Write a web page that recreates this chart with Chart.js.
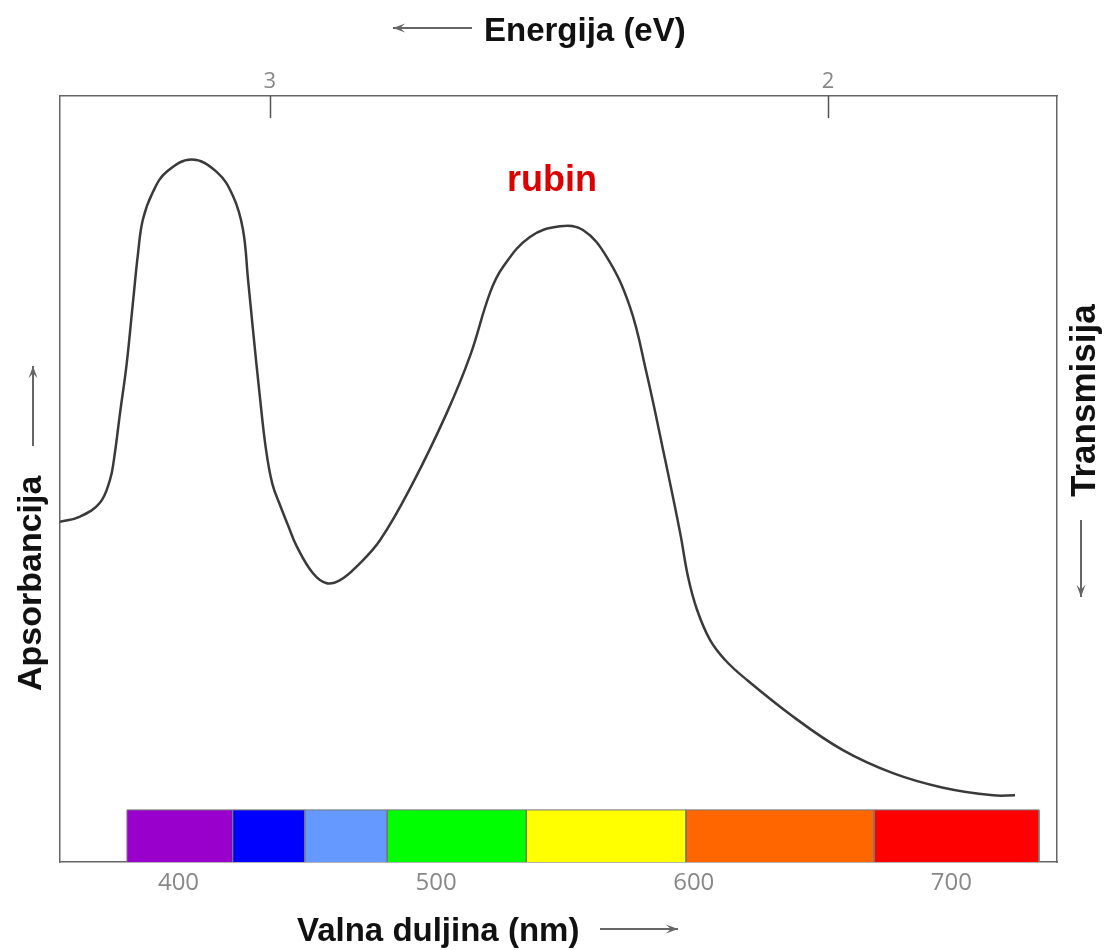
<!DOCTYPE html>
<html>
<head>
<meta charset="utf-8">
<title>Rubin - apsorpcijski spektar</title>
<script src="https://cdn.jsdelivr.net/npm/chart.js@4.4.0/dist/chart.umd.min.js"></script>
<style>
  body { margin: 0; background: #fff; }
  canvas { display: block; }
</style>
</head>
<body>
<canvas id="rubyChart" width="1105" height="950"></canvas>
<script>
// absorption curve of ruby (nm, arbitrary units 0..100)
const wavelengths = [354.0, 361.8, 369.5, 373.4, 375.0, 377.3, 379.9, 382.3, 384.3, 386.2,
    390.1, 395.4, 405.1, 414.8, 421.2, 425.0, 427.0, 428.9, 431.6, 433.9,
    436.4, 439.4, 442.8, 445.9, 452.2, 457.5, 462.7, 469.2, 478.2, 491.0, 504.1, 513.1,
    520.9, 526.0, 536.4, 548.1, 557.0, 566.2, 575.2, 581.7, 588.1, 594.7,
    597.8, 601.2, 606.3, 612.1, 619.1, 638.5, 657.9, 677.3, 696.8, 716.2, 724.7]
const absorbance = [44.4, 45.1, 46.9, 49.9, 52.7, 58.6, 65.1, 73.0, 79.5, 83.9,
    87.5, 90.1, 91.7, 90.1, 86.9, 82.6, 76.0, 69.5, 60.7, 54.0,
    49.4, 46.6, 43.7, 41.2, 37.7, 36.4, 36.8, 38.6, 42.0, 49.5, 58.6, 66.0,
    74.3, 77.7, 81.6, 83.0, 82.5, 79.0, 72.5, 63.8, 53.8, 43.0,
    37.2, 33.0, 29.0, 26.4, 24.2, 19.0, 14.6, 11.6, 9.7, 8.7, 8.7]

// visible spectrum strip under the curve
const spectrumEdges = [380, 421, 449, 481, 535, 597, 670, 734]
const spectrumColors = ['#9900cc', '#0000ff', '#6699ff', '#00ff00', '#ffff00', '#ff6600', '#ff0000']

const wavelengthTicks = [400, 500, 600, 700]
const energyTicks = [3, 2]

const stripHeight = 6.8

function spectrumDatasets() {
    let sets = []
    for (let i = 0; i < spectrumColors.length; ++i) {
        let a = spectrumEdges[i]
        let b = spectrumEdges[i + 1]
        sets.push({
            type: 'line',
            data: [{x: a, y: 0}, {x: a, y: stripHeight}, {x: b, y: stripHeight}, {x: b, y: 0}],
            backgroundColor: spectrumColors[i],
            borderColor: '#777',
            borderWidth: 1,
            fill: 'origin',
            pointRadius: 0,
            tension: 0,
            order: 1
        })
    }
    return sets
}

function drawArrow(ctx, x1, y1, x2, y2) {
    const ang = Math.atan2(y2 - y1, x2 - x1)
    const head = 13
    ctx.beginPath()
    ctx.moveTo(x1, y1)
    ctx.lineTo(x2, y2)
    ctx.stroke()
    ctx.beginPath()
    ctx.moveTo(x2, y2)
    ctx.lineTo(x2 - head * Math.cos(ang - 0.35), y2 - head * Math.sin(ang - 0.35))
    ctx.lineTo(x2 - head * 0.55 * Math.cos(ang), y2 - head * 0.55 * Math.sin(ang))
    ctx.lineTo(x2 - head * Math.cos(ang + 0.35), y2 - head * Math.sin(ang + 0.35))
    ctx.closePath()
    ctx.fill()
}

// inward ticks on the energy axis, axis labels with arrows, the "rubin" note
const decorPlugin = {
    id: 'decor',
    afterDraw(chart) {
        const ctx = chart.ctx
        const area = chart.chartArea
        const energy = chart.scales.energy
        ctx.save()

        ctx.strokeStyle = '#555'
        ctx.lineWidth = 1.5
        energy.ticks.forEach(t => {
            const px = Math.round(energy.getPixelForValue(t.value)) + 0.5
            ctx.beginPath()
            ctx.moveTo(px, area.top)
            ctx.lineTo(px, area.top + 22)
            ctx.stroke()
        })

        const titleFont = 'bold 33px "Liberation Sans", Arial, sans-serif'
        ctx.fillStyle = '#111'
        ctx.font = titleFont
        ctx.textAlign = 'left'
        ctx.textBaseline = 'alphabetic'
        ctx.fillText('Energija (eV)', 484, 41)
        ctx.fillText('Valna duljina (nm)', 297, 941)

        ctx.save()
        ctx.translate(32, 691)
        ctx.rotate(-Math.PI / 2)
        ctx.textBaseline = 'middle'
        ctx.font = 'bold 34px "Liberation Sans", Arial, sans-serif'
        ctx.fillText('Apsorbancija', 0, 0)
        ctx.restore()

        ctx.save()
        ctx.translate(1085, 497)
        ctx.rotate(-Math.PI / 2)
        ctx.textBaseline = 'middle'
        ctx.font = 'bold 35px "Liberation Sans", Arial, sans-serif'
        ctx.fillText('Transmisija', 0, 0)
        ctx.restore()

        ctx.strokeStyle = '#666'
        ctx.fillStyle = '#666'
        ctx.lineWidth = 2
        drawArrow(ctx, 472, 28, 393, 28)
        drawArrow(ctx, 600, 929, 678, 929)
        drawArrow(ctx, 33, 446, 33, 366)
        drawArrow(ctx, 1081, 520, 1081, 597)

        ctx.fillStyle = '#dd0000'
        ctx.font = 'bold 36px "Liberation Sans", Arial, sans-serif'
        ctx.fillText('rubin', 507, 191)

        ctx.restore()
    }
}

const boxBorder = {display: true, color: '#666', width: 1.5}

new Chart('rubyChart', {
    type: 'line',
    data: {
        datasets: [{
            data: wavelengths.map((w, i) => ({x: w, y: absorbance[i]})),
            borderColor: '#3a3a3a',
            borderWidth: 2.5,
            pointRadius: 0,
            fill: false,
            tension: 0.4,
            order: 0
        }].concat(spectrumDatasets())
    },
    options: {
        responsive: false,
        animation: false,
        events: [],
        layout: {padding: 0},
        plugins: {
            legend: {display: false},
            tooltip: {enabled: false}
        },
        scales: {
            x: {
                type: 'linear',
                position: 'bottom',
                min: 354,
                max: 741,
                afterBuildTicks: scale => { scale.ticks = wavelengthTicks.map(v => ({value: v})) },
                afterFit: scale => { scale.height = 88 },
                grid: {display: false, drawTicks: false},
                border: boxBorder,
                ticks: {
                    padding: 7,
                    color: '#888',
                    font: {family: 'Open Sans', size: 24}
                }
            },
            energy: {
                type: 'linear',
                position: 'top',
                min: 1.59,
                max: 3.376,
                reverse: true,
                afterBuildTicks: scale => { scale.ticks = energyTicks.map(v => ({value: v})) },
                afterFit: scale => { scale.height = 96 },
                grid: {display: false, drawTicks: false},
                border: boxBorder,
                ticks: {
                    padding: 1,
                    color: '#888',
                    font: {family: 'Open Sans', size: 22}
                }
            },
            y: {
                type: 'linear',
                position: 'left',
                min: 0,
                max: 100,
                afterFit: scale => { scale.width = 60 },
                grid: {display: false, drawTicks: false},
                border: boxBorder,
                ticks: {display: false}
            },
            y2: {
                type: 'linear',
                position: 'right',
                min: 0,
                max: 100,
                afterFit: scale => { scale.width = 48 },
                grid: {display: false, drawTicks: false},
                border: boxBorder,
                ticks: {display: false}
            }
        }
    },
    plugins: [decorPlugin]
})
</script>
</body>
</html>
